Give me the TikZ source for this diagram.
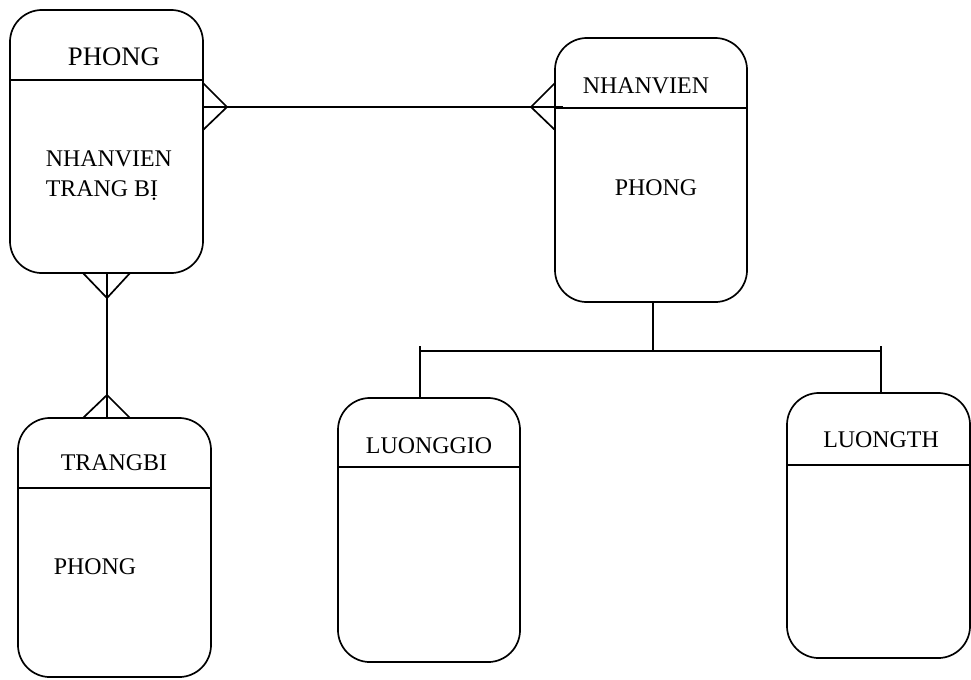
\documentclass[tikz,border=0pt]{standalone}
\usepackage{fontspec}
\setmainfont{Liberation Serif}
\begin{document}
\begin{tikzpicture}[
    x=0.025cm, y=-0.025cm,
    line width=1.2pt,
    % Styles
    entity/.style={
      rectangle,
      draw=black,
      rounded corners=0.8cm,
      inner sep=0pt,
      outer sep=0pt,
      line width=1.2pt,
    },
    label/.style={
      inner sep=0pt,
      font=\fontsize{17}{21.3}\selectfont,
    }]
  \useasboundingbox (0,0) rectangle (971,679);
  % entities
  \node[entity, minimum width=4.825cm, minimum height=6.575cm] (ph) at (106.5,141.5) {};
  \node[entity, minimum width=4.8cm, minimum height=6.6cm] (nv) at (651,170) {};
  \node[entity, minimum width=4.825cm, minimum height=6.475cm] (tb) at (114.5,547.5) {};
  \node[entity, minimum width=4.55cm, minimum height=6.6cm] (lg) at (429,530) {};
  \node[entity, minimum width=4.575cm, minimum height=6.625cm] (lt) at (878.5,525.5) {};
  % dividers
  \draw (ph.west |- 0,80) -- (ph.east |- 0,80);
  \draw (nv.west |- 0,108) -- (nv.east |- 0,108);
  \draw (tb.west |- 0,488) -- (tb.east |- 0,488);
  \draw (lg.west |- 0,467) -- (lg.east |- 0,467);
  \draw (lt.west |- 0,465) -- (lt.east |- 0,465);
  % texts
  \node[label, anchor=base, font=\fontsize{19}{23}\selectfont] (phT) at (114,65) {PHONG};
  \node[label, anchor=west, align=left] (phB) at (45,176) {NHANVIEN\\TRANG BỊ};
  \node[label, anchor=base] (nvT) at (646,93) {NHANVIEN};
  \node[label, anchor=base] (nvB) at (656,195) {PHONG};
  \node[label, anchor=base] (tbT) at (114,470) {TRANGBI};
  \node[label, anchor=base west] (tbB) at (53,574) {PHONG};
  \node[label, anchor=base] (lgT) at (429,453) {LUONGGIO};
  \node[label, anchor=base] (ltT) at (881,447) {LUONGTH};
  % PHONG -- NHANVIEN (many to many)
  \coordinate (a1) at (227,107);
  \coordinate (a2) at (531,107);
  \draw (ph.east |- a1) -- ([xshift=0.2cm]nv.west |- a2);
  \draw (ph.east |- 0,83) -- (a1) -- (ph.east |- 0,130);
  \draw (nv.west |- 0,83) -- (a2) -- (nv.west |- 0,130);
  % PHONG -- TRANGBI (many to many)
  \coordinate (b1) at (107,298);
  \coordinate (b2) at (107,395);
  \draw (b1 |- ph.south) -- (b2 |- tb.north);
  \draw (83,0 |- ph.south) -- (b1) -- (130,0 |- ph.south);
  \draw (83,0 |- tb.north) -- (b2) -- (130,0 |- tb.north);
  % NHANVIEN -- LUONGGIO, LUONGTH
  \coordinate (c0) at (653,351);
  \coordinate (c1) at (420,351);
  \coordinate (c2) at (881,351);
  \draw (c0 |- nv.south) -- (c0);
  \draw (c1) -- (c2);
  \draw ([yshift=0.125cm]c1) -- (c1 |- lg.north);
  \draw ([yshift=0.125cm]c2) -- (c2 |- lt.north);
\end{tikzpicture}
\end{document}
